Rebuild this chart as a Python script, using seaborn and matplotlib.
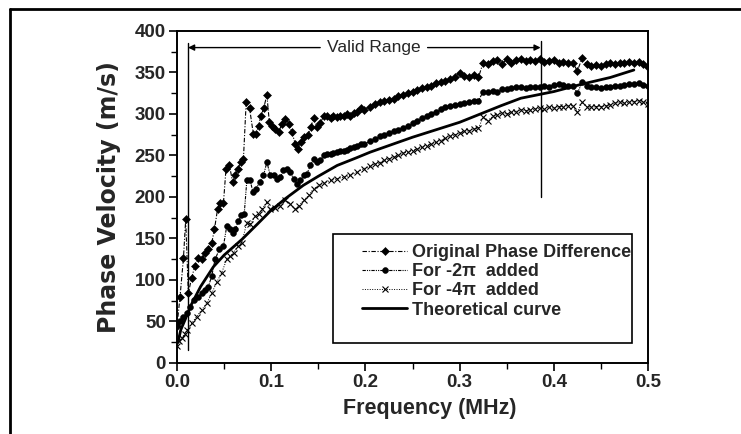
import numpy as np
import pandas as pd
import matplotlib
matplotlib.use("Agg")
import matplotlib.pyplot as plt
from matplotlib.lines import Line2D
from matplotlib.patches import Rectangle
import seaborn as sns

# ---------------- data ----------------
orig_f = [0.0, 0.0032, 0.0068, 0.0092, 0.012, 0.0156, 0.019, 0.0227, 0.0262, 0.0298,
          0.0333, 0.0369, 0.0397, 0.043, 0.0457, 0.0493, 0.052, 0.0557, 0.059, 0.0617,
          0.0645, 0.0677, 0.0705, 0.0734, 0.077, 0.081, 0.084, 0.0865, 0.089, 0.092,
          0.0954, 0.098, 0.1007, 0.1043, 0.1078, 0.1113, 0.115, 0.119, 0.122, 0.1255,
          0.128, 0.1316, 0.135, 0.139, 0.142, 0.145, 0.1486, 0.152, 0.156, 0.159,
          0.163, 0.166, 0.17, 0.173, 0.177, 0.18, 0.184, 0.188, 0.191, 0.195, 0.198,
          0.205, 0.21, 0.215, 0.22, 0.225, 0.23, 0.235, 0.24, 0.245, 0.25, 0.255, 0.26,
          0.265, 0.27, 0.275, 0.28, 0.285, 0.29, 0.295, 0.30, 0.305, 0.31, 0.315, 0.32,
          0.325, 0.33, 0.335, 0.34, 0.345, 0.35, 0.355, 0.36, 0.365, 0.37, 0.375, 0.38,
          0.385, 0.39, 0.395, 0.40, 0.405, 0.41, 0.415, 0.42, 0.425, 0.43, 0.435, 0.44,
          0.445, 0.45, 0.455, 0.46, 0.465, 0.47, 0.475, 0.48, 0.485, 0.49, 0.495, 0.50]
orig_v = [45, 80, 126, 173, 84, 103, 117, 126, 125, 132,
          137, 145, 161, 185, 193, 193, 234, 238, 218, 226,
          234, 242, 246, 314, 307, 276, 276, 286, 297, 307,
          323, 290, 286, 282, 278, 288, 294, 288, 278, 264,
          258, 266, 272, 275, 284, 295, 284, 289, 298, 297,
          295, 297, 296, 298, 298, 300, 298, 301, 303, 307, 305,
          309, 312, 315, 316, 317, 318, 322, 323, 325, 327, 329, 331,
          332, 334, 337, 338, 340, 342, 345, 349, 346, 345, 347, 344,
          362, 360, 364, 365, 360, 366, 362, 365, 366, 364, 365, 364,
          366, 363, 364, 365, 362, 363, 361, 362, 352, 367, 360, 358,
          359, 358, 360, 361, 360, 362, 361, 363, 362, 363, 360, 357]

m2_f = [0.0, 0.003, 0.0065, 0.0103, 0.0138, 0.0181, 0.0227, 0.0262, 0.0298, 0.0333,
        0.0369, 0.0404, 0.045, 0.0493, 0.0528, 0.0564, 0.0592, 0.0617, 0.0652, 0.068,
        0.0713, 0.0741, 0.0777, 0.0805, 0.084, 0.0876, 0.0918, 0.0954, 0.099, 0.1025,
        0.106, 0.1096, 0.113, 0.1167, 0.1202, 0.1238, 0.1273, 0.131, 0.1344, 0.138,
        0.1415, 0.145, 0.1486, 0.152, 0.156, 0.159, 0.163, 0.166, 0.17, 0.173, 0.177,
        0.18, 0.184, 0.188, 0.191, 0.195, 0.198,
        0.205, 0.21, 0.215, 0.22, 0.225, 0.23, 0.235, 0.24, 0.245, 0.25, 0.255, 0.26,
        0.265, 0.27, 0.275, 0.28, 0.285, 0.29, 0.295, 0.30, 0.305, 0.31, 0.315, 0.32,
        0.325, 0.33, 0.335, 0.34, 0.345, 0.35, 0.355, 0.36, 0.365, 0.37, 0.375, 0.38,
        0.385, 0.39, 0.395, 0.40, 0.405, 0.41, 0.415, 0.42, 0.425, 0.43, 0.435, 0.44,
        0.445, 0.45, 0.455, 0.46, 0.465, 0.47, 0.475, 0.48, 0.485, 0.49, 0.495, 0.50]
m2_v = [48, 50, 55, 60, 68, 76, 80, 84, 88, 92,
        105, 125, 137, 141, 165, 161, 157, 161, 171, 178,
        179, 220, 220, 206, 210, 218, 226, 242, 226, 226,
        222, 224, 232, 234, 230, 222, 216, 220, 226, 228,
        238, 246, 242, 244, 250, 252, 252, 253, 254, 255, 256,
        257, 259, 260, 262, 264, 264,
        267, 270, 273, 275, 277, 279, 281, 283, 286, 289, 292, 295,
        297, 300, 303, 306, 308, 310, 311, 312, 313, 314, 316, 316,
        327, 326, 328, 326, 330, 330, 331, 332, 333, 331, 333, 333,
        332, 334, 333, 335, 336, 335, 334, 334, 325, 338, 334, 332,
        332, 331, 333, 333, 334, 334, 335, 336, 336, 337, 335, 334]

m4_f = [0.0, 0.0025, 0.005, 0.008, 0.011, 0.0156, 0.0209, 0.0262, 0.0316, 0.0369,
        0.042, 0.0475, 0.0528, 0.0564, 0.06, 0.0652, 0.0688, 0.0741, 0.0777, 0.083,
        0.0865, 0.09, 0.0954, 0.099, 0.1043, 0.1096, 0.115, 0.1202, 0.1255, 0.129,
        0.1344, 0.1397, 0.145, 0.1504, 0.156, 0.163, 0.17, 0.177, 0.184, 0.191, 0.198,
        0.205, 0.21, 0.215, 0.22, 0.225, 0.23, 0.235, 0.24, 0.245, 0.25, 0.255, 0.26,
        0.265, 0.27, 0.275, 0.28, 0.285, 0.29, 0.295, 0.30, 0.305, 0.31, 0.315, 0.32,
        0.325, 0.33, 0.335, 0.34, 0.345, 0.35, 0.355, 0.36, 0.365, 0.37, 0.375, 0.38,
        0.385, 0.39, 0.395, 0.40, 0.405, 0.41, 0.415, 0.42, 0.425, 0.43, 0.435, 0.44,
        0.445, 0.45, 0.455, 0.46, 0.465, 0.47, 0.475, 0.48, 0.485, 0.49, 0.495, 0.50]
m4_v = [20, 26, 30, 35, 40, 48, 56, 64, 72, 84,
        97, 109, 125, 129, 133, 141, 145, 169, 167, 177,
        179, 185, 194, 185, 187, 189, 196, 192, 185, 189,
        196, 202, 210, 214, 217, 220, 222, 224, 226, 230, 234,
        237, 240, 241, 244, 246, 248, 250, 253, 254, 256, 258, 260,
        262, 264, 266, 268, 271, 273, 275, 277, 279, 280, 282, 283,
        296, 292, 297, 299, 301, 300, 302, 303, 305, 304, 305, 306,
        307, 306, 308, 307, 309, 309, 310, 310, 302, 314, 309, 308,
        309, 309, 310, 311, 313, 314, 313, 314, 315, 316, 314, 312]

theo_f = [0.001, 0.004, 0.0085, 0.015, 0.025, 0.0387, 0.05, 0.069, 0.085, 0.099,
          0.115, 0.134, 0.15, 0.17, 0.19, 0.205, 0.25, 0.30, 0.344, 0.365,
          0.40, 0.43, 0.46, 0.485]
theo_v = [25, 40, 52, 70, 92, 116, 130, 149, 167, 183,
          198, 214, 225, 238, 247, 254, 272, 290, 310, 319,
          327, 336, 344, 353]

series_labels = ["Original Phase Difference", "For -2\u03c0  added",
                 "For -4\u03c0  added", "Theoretical curve"]
x_ticks = [0.0, 0.1, 0.2, 0.3, 0.4, 0.5]
y_ticks = [0, 50, 100, 150, 200, 250, 300, 350, 400]
valid_lo, valid_hi = 0.0117, 0.386
valid_y = 380

# ---------------- figure ----------------
sns.set_style("ticks")
plt.rcParams["font.family"] = ["Liberation Sans", "DejaVu Sans"]
plt.rcParams["font.weight"] = "bold"

fig = plt.figure(figsize=(7.41, 4.34), dpi=100)
ax = fig.add_axes([0.2389, 0.1636, 0.6356, 0.765])

df_o = pd.DataFrame({"f": orig_f, "v": orig_v})
df_2 = pd.DataFrame({"f": m2_f, "v": m2_v})
df_4 = pd.DataFrame({"f": m4_f, "v": m4_v})
df_t = pd.DataFrame({"f": theo_f, "v": theo_v})

sns.lineplot(data=df_o, x="f", y="v", ax=ax, sort=False, estimator=None,
             color="black", lw=0.8, linestyle=(0, (4, 1.5, 1, 1.5)),
             marker="D", markersize=4.0, markeredgewidth=0.4,
             markeredgecolor="black", markerfacecolor="black",
             label=series_labels[0])
sns.lineplot(data=df_2, x="f", y="v", ax=ax, sort=False, estimator=None,
             color="black", lw=0.8, linestyle=(0, (3, 1, 1, 1, 1, 1)),
             marker="o", markersize=4.2, markeredgewidth=0.4,
             markeredgecolor="black", markerfacecolor="black",
             label=series_labels[1])
sns.lineplot(data=df_4, x="f", y="v", ax=ax, sort=False, estimator=None,
             color="black", lw=0.7, linestyle=(0, (1, 1.5)),
             marker="x", markersize=4.5, markeredgewidth=0.8,
             markeredgecolor="black",
             label=series_labels[2])
sns.lineplot(data=df_t, x="f", y="v", ax=ax, sort=False, estimator=None,
             color="black", lw=2.0, linestyle="-",
             label=series_labels[3])

ax.set_xlim(0, 0.5)
ax.set_ylim(0, 400)
ax.set_xticks(x_ticks)
ax.set_xticklabels([f"{t:.1f}" for t in x_ticks])
ax.set_yticks(y_ticks)
ax.set_yticklabels([str(t) for t in y_ticks])
ax.set_xticks(np.arange(0.05, 0.5, 0.1), minor=True)
ax.set_yticks(np.arange(25, 400, 50), minor=True)
ax.tick_params(which="major", direction="out", length=6, width=1.2,
               labelsize=13.5, pad=2, color="black")
ax.tick_params(which="minor", direction="out", length=4, width=1.0, color="black")
for s in ax.spines.values():
    s.set_linewidth(1.4)
    s.set_color("black")

ax.set_xlabel("Frequency (MHz)", fontsize=15.5, fontweight="bold")
ax.xaxis.set_label_coords(0.537, -0.105)
ax.set_ylabel("Phase Velocity (m/s)", fontsize=17, fontweight="bold",
              family=["DejaVu Sans"])
ax.yaxis.set_label_coords(-0.118, 0.5)

# valid range annotation
ax.plot([valid_lo, valid_lo], [16, 386], color="black", lw=1.0)
ax.plot([valid_hi, valid_hi], [200, 388], color="black", lw=1.0)
ax.annotate("", xy=(valid_lo, valid_y), xytext=(0.152, valid_y),
            arrowprops=dict(arrowstyle="-|>", color="black", lw=1.0,
                            mutation_scale=9, shrinkA=0, shrinkB=0))
ax.annotate("", xy=(valid_hi, valid_y), xytext=(0.266, valid_y),
            arrowprops=dict(arrowstyle="-|>", color="black", lw=1.0,
                            mutation_scale=9, shrinkA=0, shrinkB=0))
ax.text(0.209, valid_y, "Valid Range", ha="center", va="center",
        fontsize=12.5, fontweight="normal")

# legend
ax.add_patch(Rectangle((0.331, 0.060), 0.635, 0.329, transform=ax.transAxes,
                       facecolor="white", edgecolor="black", lw=1.2, zorder=4))
leg = ax.legend(loc="upper left", bbox_to_anchor=(0.393, 0.358),
                frameon=False, borderpad=0, borderaxespad=0,
                handlelength=2.5, handletextpad=0.25, labelspacing=0.12,
                prop={"size": 13, "weight": "bold"})
leg.set_zorder(5)

# outer frame (top and left)
fig.add_artist(Line2D([0.0135, 0.0135], [0.0, 0.979], transform=fig.transFigure,
                      color="black", lw=2.0))
fig.add_artist(Line2D([0.0135, 1.0], [0.979, 0.979], transform=fig.transFigure,
                      color="black", lw=2.0))

fig.savefig("out.png", dpi=100)
